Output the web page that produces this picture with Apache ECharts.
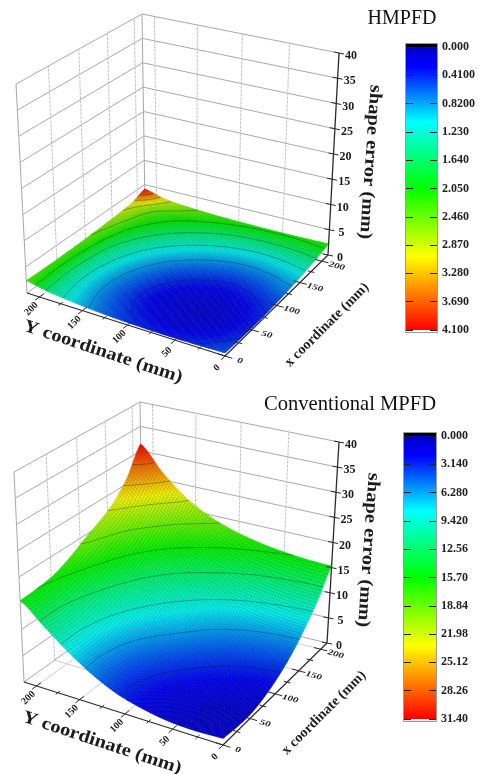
<!DOCTYPE html>
<html>
<head>
<meta charset="utf-8">
<style>html,body{margin:0;padding:0;background:#fff}#c{width:480px;height:774px}</style>
<script src="https://cdn.jsdelivr.net/npm/echarts@6/dist/echarts.min.js"></script>
</head>
<body>
<div id="c"></div>
<script>
// ---------- data ----------
const surfaceCoords = [0, 27, 54, 81, 108, 135, 162, 189, 215];
const axisEnd = 215;
const zMax = 40;
const planarTicks = [0, 25, 50, 75, 100, 125, 150, 175, 200];
const planarLabels = [0, 50, 100, 150, 200];
const zTicks = [0, 5, 10, 15, 20, 25, 30, 35, 40];

const hmpfdZ = [
  [0.55,0.42,0.35,0.38,0.50,0.72,1.08,1.55,2.35],
  [0.42,0.25,0.20,0.24,0.38,0.62,0.98,1.48,2.30],
  [0.36,0.20,0.12,0.18,0.33,0.60,0.96,1.48,2.30],
  [0.42,0.26,0.20,0.26,0.42,0.68,1.04,1.55,2.35],
  [0.58,0.45,0.38,0.45,0.60,0.85,1.20,1.68,2.45],
  [0.85,0.72,0.66,0.72,0.88,1.12,1.45,1.92,2.60],
  [1.22,1.10,1.04,1.10,1.25,1.48,1.78,2.20,2.80],
  [1.68,1.58,1.54,1.58,1.70,1.90,2.15,2.50,3.10],
  [2.20,2.12,2.10,2.12,2.20,2.35,2.60,3.05,4.10]
];
const conventionalZ = [
  [1.2,1.0,1.2,2.0,3.3,5.5,8.5,12.0,15.5],
  [0.8,0.7,1.1,2.0,3.3,5.4,8.4,11.8,15.7],
  [0.8,1.0,1.6,2.6,4.0,6.0,8.9,12.4,16.2],
  [1.6,1.9,2.6,3.7,5.2,7.2,10.0,13.6,17.5],
  [3.0,3.3,4.0,5.2,7.0,8.9,11.6,15.2,19.3],
  [5.0,5.3,6.0,7.2,8.9,10.9,13.5,17.0,20.9],
  [7.8,8.1,8.8,9.9,11.5,13.4,16.0,19.4,22.9],
  [11.2,11.5,12.2,13.2,14.8,16.7,19.2,22.8,26.4],
  [15.3,15.5,16.0,16.8,18.0,19.8,22.5,26.5,31.4]
];
const hmpfdScale = ['0.000','0.4100','0.8200','1.230','1.640','2.050','2.460','2.870','3.280','3.690','4.100'];
const conventionalScale = ['0.000','3.140','6.280','9.420','12.56','15.70','18.84','21.98','25.12','28.26','31.40'];
const hmpfdMax = 4.1, conventionalMax = 31.4;

// ---------- view of each 3D box on the plane axis (corner order: front, right, left, back) ----------
const panels = [
  { name:'HMPFD', z:hmpfdZ, max:hmpfdMax,
    floor:[[225,356],[328,255],[27,293],[145,209]],
    top:[[229,138],[339,53],[16,84],[142,14]],
    yTitle:[103,352], xTitle:[327,325], zTitle:[370,162] },
  { name:'Conventional MPFD', z:conventionalZ, max:conventionalMax,
    floor:[[223,745],[327,643],[24,682],[143,597]],
    top:[[227,527],[339,442],[14,472],[140,402]],
    yTitle:[102,743], xTitle:[324,713], zTitle:[368,550] }
];

const SUB = 10;
const FONT = '"Liberation Serif","Times New Roman",serif';

function homography(c){
  // unit square -> quad: (0,0)=c0,(1,0)=c1,(1,1)=c3,(0,1)=c2
  const [x0,y0]=c[0],[x1,y1]=c[1],[x3,y3]=c[2],[x2,y2]=c[3];
  const dx1=x1-x2,dx2=x3-x2,sx=x0-x1+x2-x3,dy1=y1-y2,dy2=y3-y2,sy=y0-y1+y2-y3;
  const den=dx1*dy2-dx2*dy1;
  const g=(sx*dy2-dx2*sy)/den,h=(dx1*sy-sx*dy1)/den;
  const a=x1-x0+g*x1,b=x3-x0+h*x3,d=y1-y0+g*y1,e=y3-y0+h*y3;
  return (u,v)=>{const w=g*u+h*v+1;return [(a*u+b*v+x0)/w,(d*u+e*v+y0)/w];};
}
panels.forEach(p=>{
  const H0=homography(p.floor),H1=homography(p.top);
  p.project=(x,y,z)=>{
    const u=x/axisEnd,v=y/axisEnd,t=z/zMax;
    const a=H0(u,v),b=H1(u,v);
    return [a[0]+(b[0]-a[0])*t,a[1]+(b[1]-a[1])*t];
  };
  // smooth evaluation between the read grid values (only for shading)
  const n=p.z.length;
  const cr=(a,b,c,d,t)=>0.5*((2*b)+(-a+c)*t+(2*a-5*b+4*c-d)*t*t+(-a+3*b-3*c+d)*t*t*t);
  const G=(i,j)=>p.z[Math.max(0,Math.min(n-1,i))][Math.max(0,Math.min(n-1,j))];
  const ev=(fi,fj)=>{
    const i=Math.min(n-2,Math.floor(fi)),j=Math.min(n-2,Math.floor(fj)),ti=fi-i,tj=fj-j;
    const r=[-1,0,1,2].map(k=>cr(G(i+k,j-1),G(i+k,j),G(i+k,j+1),G(i+k,j+2),tj));
    return Math.max(0,Math.min(p.max,cr(r[0],r[1],r[2],r[3],ti)));
  };
  p.sample=[];
  for(let a=0;a<=(n-1)*SUB;a++){const row=[];for(let b=0;b<=(n-1)*SUB;b++)row.push(ev(a/SUB,b/SUB));p.sample.push(row);}
  p.coordAt=k=>{const i=Math.min(n-2,Math.floor(k/SUB));return surfaceCoords[i]+(surfaceCoords[i+1]-surfaceCoords[i])*(k/SUB-i);};
});

const stops=[[0,[0,0,200]],[0.07,[0,0,255]],[0.265,[0,255,255]],[0.5,[0,255,0]],[0.74,[255,255,0]],[1,[255,0,0]]];
function rgb(t){
  for(let i=1;i<stops.length;i++){
    if(t<=stops[i][0]){
      const a=stops[i-1],b=stops[i],f=(t-a[0])/(b[0]-a[0]);
      return [0,1,2].map(k=>a[1][k]+(b[1][k]-a[1][k])*f);
    }
  }
  return stops[stops.length-1][1];
}
const css=(c,k)=>`rgb(${Math.round(c[0]*k)},${Math.round(c[1]*k)},${Math.round(c[2]*k)})`;

function cellData(){
  const out=[];
  for(let i=surfaceCoords.length-2;i>=0;i--)for(let j=surfaceCoords.length-2;j>=0;j--)out.push([surfaceCoords[i],surfaceCoords[j],i,j]);
  return out;
}

function surfaceSeries(p){
  return {type:'custom',coordinateSystem:'cartesian2d',xAxisIndex:0,yAxisIndex:0,silent:true,z:3,animation:false,progressive:0,
    data:cellData(),
    renderItem:(params,api)=>{
      const ci=api.value(2),cj=api.value(3),kids=[];
      for(let a=(ci+1)*SUB-1;a>=ci*SUB;a--)for(let b=(cj+1)*SUB-1;b>=cj*SUB;b--){
        const S=p.sample,xa=p.coordAt(a),xb=p.coordAt(a+1),ya=p.coordAt(b),yb=p.coordAt(b+1);
        const pts=[[xa,ya,S[a][b]],[xb,ya,S[a+1][b]],[xb,yb,S[a+1][b+1]],[xa,yb,S[a][b+1]]].map(q=>api.coord(p.project(q[0],q[1],q[2])));
        const c=rgb((S[a][b]+S[a+1][b]+S[a+1][b+1]+S[a][b+1])/4/p.max);
        kids.push({type:'polygon',shape:{points:pts},style:{fill:css(c,0.96),stroke:css(c,0.72),lineWidth:0.5}});
      }
      return {type:'group',children:kids};
    }};
}
function contourSeries(p){
  const step=p.max/10;
  return {type:'custom',coordinateSystem:'cartesian2d',xAxisIndex:0,yAxisIndex:0,silent:true,z:4,animation:false,progressive:0,
    data:cellData(),
    renderItem:(params,api)=>{
      const ci=api.value(2),cj=api.value(3),kids=[],S=p.sample;
      for(let a=ci*SUB;a<(ci+1)*SUB;a++)for(let b=cj*SUB;b<(cj+1)*SUB;b++){
        const q=[[a,b],[a+1,b],[a+1,b+1],[a,b+1]];
        const vals=q.map(k=>S[k[0]][k[1]]);
        const lo=Math.ceil(Math.min(...vals)/step),hi=Math.floor(Math.max(...vals)/step);
        for(let L=Math.max(lo,1);L<=Math.min(hi,9);L++){
          const lev=L*step,cr=[];
          for(let e=0;e<4;e++){
            const v0=vals[e],v1=vals[(e+1)%4];
            if((v0<lev)!==(v1<lev)){
              const f=(lev-v0)/(v1-v0),A=q[e],B=q[(e+1)%4];
              cr.push(api.coord(p.project(p.coordAt(A[0]+(B[0]-A[0])*f),p.coordAt(A[1]+(B[1]-A[1])*f),lev)));
            }
          }
          if(cr.length>=2)kids.push({type:'line',shape:{x1:cr[0][0],y1:cr[0][1],x2:cr[1][0],y2:cr[1][1]},style:{stroke:'rgba(0,20,20,0.34)',lineWidth:0.9}});
        }
      }
      return {type:'group',children:kids};
    }};
}
function frameSegments(){
  const s=[],E=axisEnd;
  const add=(a,b,kind)=>s.push([a[0],a[1],a[2],b[0],b[1],b[2],kind]);
  zTicks.slice(1).forEach(z=>{add([0,E,z],[E,E,z],0);add([E,E,z],[E,0,z],0);});
  planarLabels.slice(1).forEach(t=>{
    add([t,E,0],[t,E,zMax],1);add([E,t,0],[E,t,zMax],1);
    add([t,0,0],[t,E,0],2);add([0,t,0],[E,t,0],2);
  });
  add([0,E,0],[0,E,zMax],0);add([E,E,0],[E,E,zMax],0);
  add([0,E,0],[E,E,0],0);add([E,E,0],[E,0,0],0);
  return s;
}
function frameSeries(p){
  const sty=[{stroke:'#a9a9a9',lineWidth:1},{stroke:'#c2c2c2',lineWidth:1,lineDash:[3,1]},{stroke:'#cfcfcf',lineWidth:1}];
  return {type:'custom',coordinateSystem:'cartesian2d',xAxisIndex:0,yAxisIndex:0,silent:true,z:2,animation:false,
    data:frameSegments(),
    renderItem:(params,api)=>{
      const a=api.coord(p.project(api.value(0),api.value(1),api.value(2)));
      const b=api.coord(p.project(api.value(3),api.value(4),api.value(5)));
      return {type:'line',shape:{x1:a[0],y1:a[1],x2:b[0],y2:b[1]},style:sty[api.value(6)]};
    }};
}
function axisSeries(p){
  // drawn on top of the surface: the three dark axes with their ticks and labels
  const rows=[[0]];
  return {type:'custom',coordinateSystem:'cartesian2d',xAxisIndex:0,yAxisIndex:0,silent:true,z:5,animation:false,
    data:rows,
    renderItem:(params,api)=>{
      const kids=[],E=axisEnd;
      const P=(x,y,z)=>api.coord(p.project(x,y,z));
      const ln=(a,b,w)=>kids.push({type:'line',shape:{x1:a[0],y1:a[1],x2:b[0],y2:b[1]},style:{stroke:'#2b2b2b',lineWidth:w}});
      const tx=(t,o,font,rot,sx,sy)=>kids.push({type:'text',x:o[0],y:o[1],rotation:rot||0,scaleX:sx||1,scaleY:sy||1,
        style:{text:String(t),font:font,fill:'#1c1c1c',align:'center',verticalAlign:'middle'}});
      ln(P(0,0,0),P(0,E,0),1.2);ln(P(0,0,0),P(E,0,0),1.2);ln(P(E,0,0),P(E,0,zMax),1.3);
      planarTicks.forEach(t=>{
        const major=t%50===0,d=major?7:3.5;
        ln(P(-d,t,0),P(d,t,0),1);ln(P(t,-d,0),P(t,d,0),1);
        if(major){
          const a=P(0,t,0),b=P(t,0,0);
          tx(t,[a[0]-8,a[1]+12],'bold 10px '+FONT,Math.PI/4);
          tx(t,[b[0]+15,b[1]+5],'italic bold 11px '+FONT,-0.27,1,0.72);
        }
      });
      zTicks.forEach(z=>{
        const a=P(E,0,z);
        ln([a[0]-5,a[1]-1],[a[0]+5,a[1]+1],1);
        tx(z,[a[0]+12,a[1]+3],'bold 12px '+FONT);
      });
      const yt=api.coord(p.yTitle),xt=api.coord(p.xTitle),zt=api.coord(p.zTitle);
      tx('Y coordinate (mm)',yt,'bold 18px '+FONT,-0.32,1.14,1);
      tx('x coordinate (mm)',xt,'bold 14px '+FONT,0.785,1.02,1);
      tx('shape error (mm)',zt,'bold 18px '+FONT,-1.64,1.14,1);
      return {type:'group',children:kids};
    }};
}

// ---------- colour bars ----------
function barSeries(idx,maxV){
  return {type:'custom',coordinateSystem:'cartesian2d',xAxisIndex:idx,yAxisIndex:idx*2-1,silent:true,z:1,animation:false,
    data:[[0,0,1,maxV]],
    renderItem:(params,api)=>{
      const a=api.coord([api.value(0),api.value(1)]),b=api.coord([api.value(2),api.value(3)]);
      const w=b[0]-a[0],h=b[1]-a[1];
      return {type:'group',children:[
        {type:'rect',shape:{x:a[0]-0.5,y:a[1]-3.5,width:w+1,height:h+6},style:{fill:'#fff',stroke:'#9a9a9a',lineWidth:1}},
        {type:'rect',shape:{x:a[0],y:a[1],width:w,height:h},style:{fill:new echarts.graphic.LinearGradient(0,0,0,1,stops.map(s=>({offset:s[0],color:css(s[1],1)})))}},
        {type:'rect',shape:{x:a[0],y:a[1]-3,width:w,height:3},style:{fill:'#000'}}
      ]};
    }};
}
function barAxes(idx,maxV,labels){
  const common={type:'value',gridIndex:idx,inverse:true,min:0,max:maxV,interval:maxV/10,z:6,splitLine:{show:false},axisLine:{show:false},
    axisTick:{show:true,inside:true,length:7,lineStyle:{color:'#222',width:1}}};
  return [
    Object.assign({},common,{position:'left',axisLabel:{show:false}}),
    Object.assign({},common,{position:'right',axisLabel:{show:true,margin:5,color:'#222',fontFamily:FONT,fontWeight:'bold',fontSize:12,
      formatter:(v,i)=>labels[i]!==undefined?labels[i]:''}})
  ];
}

const option={
  animation:false,
  backgroundColor:'#fff',
  title:[
    {text:'HMPFD',left:397,top:4,textAlign:'center',textStyle:{fontFamily:FONT,fontWeight:'normal',fontSize:20,color:'#111'}},
    {text:'Conventional MPFD',left:345,top:389,textAlign:'center',textStyle:{fontFamily:FONT,fontWeight:'normal',fontSize:20.6,color:'#111'}}
  ],
  grid:[
    {left:0,top:0,width:480,height:774},
    {left:406,top:47,width:31,height:283},
    {left:404,top:436,width:32,height:283}
  ],
  xAxis:[
    {type:'value',gridIndex:0,min:0,max:480,show:false},
    {type:'value',gridIndex:1,min:0,max:1,show:false},
    {type:'value',gridIndex:2,min:0,max:1,show:false}
  ],
  yAxis:[
    {type:'value',gridIndex:0,min:0,max:774,inverse:true,show:false},
    ...barAxes(1,hmpfdMax,hmpfdScale),
    ...barAxes(2,conventionalMax,conventionalScale)
  ],
  series:[
    ...panels.flatMap(p=>[frameSeries(p),surfaceSeries(p),contourSeries(p),axisSeries(p)]),
    barSeries(1,hmpfdMax),
    barSeries(2,conventionalMax)
  ]
};
const chart=echarts.init(document.getElementById('c'),null,{renderer:'canvas'});
chart.setOption(option);
</script>
</body>
</html>
